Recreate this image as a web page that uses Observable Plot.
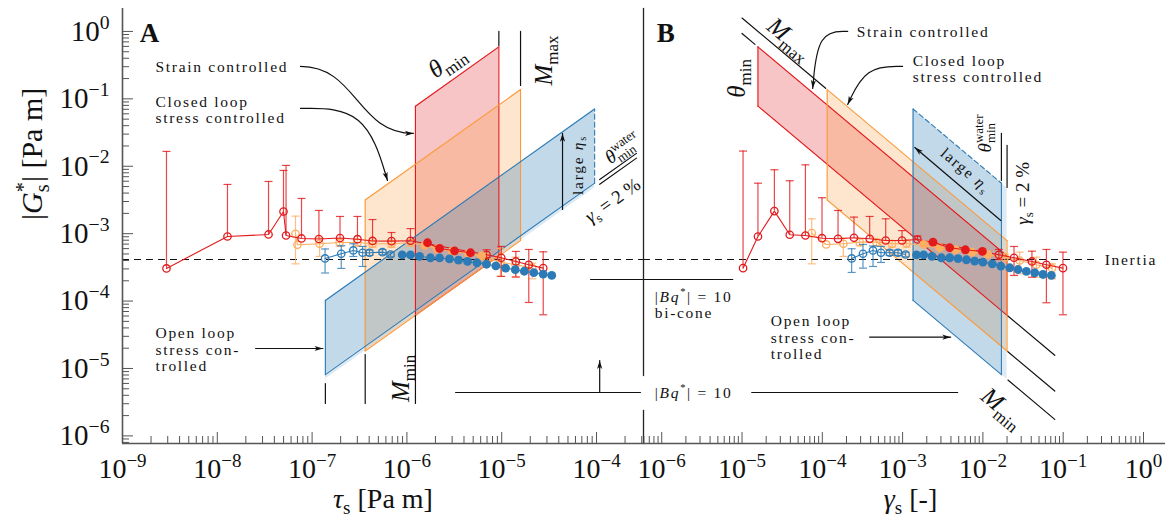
<!DOCTYPE html>
<html><head><meta charset="utf-8">
<script src="https://cdn.jsdelivr.net/npm/d3@7"></script>
<script src="https://cdn.jsdelivr.net/npm/@observablehq/plot@0.6"></script>
<style>
body{margin:0;background:#fff;}
#chart{display:flex;width:1172px;height:523px;}
#chart svg{display:block;flex:none;overflow:visible;font-family:'Liberation Serif',serif;}
#chart svg text{font-family:'Liberation Serif',serif;}
g[font-size="15.5"]{letter-spacing:1.7px;}
</style></head><body><div id="chart"></div><script>
// ---------- Panel A : tau_s [Pa m] vs |G*_s| [Pa m] ----------
const aRedOpenTau = [2.91e-9,1.28e-8,3.47e-8,4.99e-8,5.31e-8,7.73e-8,1.18e-7,1.97e-7,3.01e-7,4.34e-7,6.88e-7,1.09e-6,6.92e-6,9.89e-6,1.41e-5,1.93e-5,2.74e-5];
const aRedOpenG   = [3.05e-4,9.08e-4,9.73e-4,2.13e-3,9.40e-4,8.49e-4,8.34e-4,8.63e-4,8.28e-4,7.80e-4,7.74e-4,7.85e-4,4.86e-4,4.39e-4,3.87e-4,3.46e-4,3.08e-4];
const aRedOpenHi  = [1.66e-2,5.37e-3,5.95e-3,8.67e-3,1.03e-2,3.33e-3,2.21e-3,1.80e-3,1.80e-3,1.62e-3,1.04e-3,1.19e-3,5.77e-4,6.46e-4,5.45e-4,5.83e-4,5.38e-4];
const aRedOpenLo  = [null,null,null,null,null,null,null,null,null,null,null,null,4.39e-4,2.32e-4,2.28e-4,9.53e-5,6.26e-5];
const aRedFillTau = [1.65e-6,2.21e-6,3.18e-6,4.69e-6];
const aRedFillG   = [7.33e-4,6.03e-4,5.57e-4,5.21e-4];
const aOrgOpenTau = [6.68e-8,7.01e-8,1.20e-7,1.95e-7,3.01e-7,4.34e-7,6.88e-7,1.09e-6,7.03e-6,9.70e-6,1.40e-5,2.10e-5];
const aOrgOpenG   = [9.97e-4,6.84e-4,7.08e-4,7.40e-4,7.40e-4,7.08e-4,7.08e-4,7.33e-4,4.48e-4,3.78e-4,3.46e-4,3.08e-4];
const aOrgOpenHi  = [1.82e-3,null,8.6e-4,8.3e-4,8.2e-4,7.9e-4,7.9e-4,8.1e-4,5.0e-4,6.03e-4,4.48e-4,3.65e-4];
const aOrgOpenLo  = [3.57e-4,null,4.6e-4,6.5e-4,6.6e-4,6.3e-4,6.3e-4,6.5e-4,4.0e-4,2.34e-4,2.26e-4,2.14e-4];
const aOrgFillTau = [1.55e-6,2.09e-6,3.01e-6,4.45e-6,6.12e-6];
const aOrgFillG   = [6.68e-4,5.97e-4,5.50e-4,5.04e-4,4.67e-4];
const aBluOpenTau = [1.37e-7,2.03e-7,2.72e-7,3.41e-7,4.03e-7,5.53e-7,6.72e-7];
const aBluOpenG   = [4.29e-4,5.04e-4,5.64e-4,5.21e-4,5.21e-4,5.32e-4,4.91e-4];
const aBluOpenHi  = [5.93e-4,6.61e-4,7.08e-4,6.46e-4,5.7e-4,5.8e-4,5.3e-4];
const aBluOpenLo  = [2.61e-4,3.05e-4,4.59e-4,3.26e-4,4.75e-4,4.9e-4,4.55e-4];
const aBluFillTau = [8.91e-7,1.09e-6,1.36e-6,1.77e-6,2.21e-6,2.81e-6,3.50e-6,4.36e-6,5.48e-6,6.92e-6,8.67e-6,1.10e-5,1.39e-5,1.73e-5,2.18e-5,2.74e-5,3.37e-5];
const aBluFillG   = [4.86e-4,4.83e-4,4.59e-4,4.39e-4,4.36e-4,4.22e-4,4.05e-4,3.87e-4,3.70e-4,3.52e-4,3.32e-4,3.08e-4,2.92e-4,2.77e-4,2.64e-4,2.51e-4,2.40e-4];

// ---------- Panel B : gamma_s [-] vs |G*_s| [Pa m] ----------
const bRedOpenGam = [1.03e-5,1.58e-5,2.53e-5,3.93e-5,6.16e-5,9.91e-5,1.57e-4,2.48e-4,3.89e-4,6.16e-4,9.84e-4,1.53e-3,1.58e-2,2.44e-2,4.08e-2,6.18e-2,9.93e-2];
const bRedOpenG   = [3.08e-4,9.08e-4,2.16e-3,9.64e-4,9.40e-4,8.57e-4,8.39e-4,8.69e-4,8.39e-4,7.92e-4,7.92e-4,8.20e-4,4.86e-4,4.39e-4,3.87e-4,3.46e-4,3.08e-4];
const bRedOpenHi  = [1.68e-2,5.61e-3,8.87e-3,6.09e-3,1.05e-2,3.41e-3,2.21e-3,1.76e-3,1.80e-3,1.66e-3,1.11e-3,9.24e-4,5.83e-4,6.46e-4,5.50e-4,5.83e-4,5.32e-4];
const bRedOpenLo  = [null,null,null,null,null,null,null,null,null,null,null,null,4.14e-4,2.40e-4,2.26e-4,9.44e-5,6.26e-5];
const bRedFillGam = [2.39e-3,3.86e-3,6.05e-3,9.86e-3];
const bRedFillG   = [7.48e-4,6.18e-4,5.77e-4,5.45e-4];
const bOrgOpenGam = [7.38e-5,1.12e-4,1.83e-4,2.92e-4,4.72e-4,7.38e-4,1.12e-3,1.87e-2,2.87e-2,4.63e-2,7.26e-2];
const bOrgOpenG   = [1.02e-3,6.92e-4,7.08e-4,7.48e-4,7.48e-4,7.08e-4,7.16e-4,4.48e-4,4.00e-4,3.46e-4,3.08e-4];
const bOrgOpenHi  = [1.66e-3,null,8.6e-4,8.4e-4,8.3e-4,7.9e-4,7.9e-4,5.0e-4,5.32e-4,4.48e-4,3.57e-4];
const bOrgOpenLo  = [3.57e-4,null,4.6e-4,6.6e-4,6.6e-4,6.3e-4,6.3e-4,4.0e-4,2.54e-4,2.26e-4,2.14e-4];
const bOrgFillGam = [1.83e-3,2.90e-3,4.58e-3,7.31e-3,1.15e-2];
const bOrgFillG   = [6.92e-4,6.18e-4,5.77e-4,5.32e-4,4.91e-4];
const bBluOpenGam = [2.32e-4,3.21e-4,4.28e-4,5.38e-4,6.90e-4,8.77e-4,1.09e-3];
const bBluOpenG   = [4.29e-4,5.04e-4,5.64e-4,5.21e-4,5.21e-4,5.21e-4,4.91e-4];
const bBluOpenHi  = [5.97e-4,6.92e-4,6.57e-4,6.46e-4,5.7e-4,5.7e-4,5.3e-4];
const bBluOpenLo  = [2.66e-4,3.08e-4,3.26e-4,3.74e-4,4.75e-4,4.75e-4,4.55e-4];
const bBluFillGam = [1.49e-3,1.83e-3,2.32e-3,3.04e-3,3.86e-3,4.90e-3,6.23e-3,7.91e-3,1.00e-2,1.31e-2,1.67e-2,2.16e-2,2.74e-2,3.48e-2,4.42e-2,5.60e-2,7.13e-2];
const bBluFillG   = [4.86e-4,4.86e-4,4.59e-4,4.39e-4,4.39e-4,4.25e-4,4.10e-4,3.91e-4,3.78e-4,3.57e-4,3.30e-4,3.12e-4,2.94e-4,2.75e-4,2.63e-4,2.48e-4,2.40e-4];

// ---------- operating windows (strain / closed loop / open loop) ----------
const regColor  = ["#e3191c","#fb9a3c","#2c7bb6"];
const regOpac   = [0.25,0.25,0.29];
const regTauMin = [1.23e-6,3.63e-7,1.38e-7];
const regTauMax = [9.33e-6,1.58e-5,9.55e-5];
const regGamMin = [1.58e-5,1.15e-4,1.35e-3];
const regGamMax = [0.02,0.02,0.017];
const gamma2pct = 0.02, thetaWater = 0.017;
const inertiaG = 4.14e-4;

// ---------- axes ----------
const xDomA = [1e-9, 3.13e-4];
const xDomB = [5.93e-7, 1.88];
const yDom  = [7.71e-7, 2.19];
const aXMajor = [1e-9,1e-8,1e-7,1e-6,1e-5,1e-4];
const bXMajor = [1e-6,1e-5,1e-4,1e-3,1e-2,1e-1,1];
const yMajor  = [1e-6,1e-5,1e-4,1e-3,1e-2,1e-1,1];
const minor = (lo, hi) => { const o=[]; for (let e=-10;e<=1;e++) for (let k=2;k<=9;k++){const v=k*Math.pow(10,e); if (v>=lo&&v<=hi) o.push(v);} return o; };
const supFmt = d => { const e = Math.round(Math.log10(d)); return `10^{${e<0?"−"+(-e):e}}`; };
const AX = "#555", INK = "#111", FONT = "'Liberation Serif', serif";

const capSym  = {draw(c, size){ const w=Math.sqrt(size/Math.PI); c.moveTo(-w,0); c.lineTo(w,0); }};
const headSym = {draw(c, size){ const s=Math.sqrt(size/Math.PI); c.moveTo(0,0); c.lineTo(0.65*s,2.1*s); c.lineTo(0,1.55*s); c.lineTo(-0.65*s,2.1*s); c.closePath(); }};

function series(xs, ys, his, los, color, filled) {
  const pts = xs.map((x,i)=>({x, y:ys[i], hi: his?his[i]:null, lo: los?los[i]:null}));
  const bars = pts.filter(d=>d.hi!=null||d.lo!=null).map(d=>({x:d.x, y1:d.lo??d.y, y2:d.hi??d.y}));
  const caps = [];
  for (const d of pts) { if (d.hi!=null) caps.push({x:d.x,y:d.hi}); if (d.lo!=null) caps.push({x:d.x,y:d.lo}); }
  return [
    Plot.ruleX(bars, {x:"x", y1:"y1", y2:"y2", stroke:color, strokeWidth:1.2, strokeOpacity:0.8}),
    Plot.dot(caps, {x:"x", y:"y", symbol:capSym, r:4, stroke:color, strokeWidth:1.2, strokeOpacity:0.8}),
    Plot.line(pts, {x:"x", y:"y", stroke:color, strokeWidth:1.1}),
    filled ? Plot.dot(pts, {x:"x", y:"y", r:4.4, fill:color, stroke:"none"})
           : Plot.dot(pts, {x:"x", y:"y", r:3.7, fill:"none", stroke:color, strokeWidth:1.3})
  ];
}
const segs = list => list.flatMap((s,i)=>s.map(([x,y])=>({x,y,id:i})));
const segLine = (list, o) => Plot.line(segs(list), {x:"x", y:"y", z:"id", ...o});

function regionsA() {
  const marks = [];
  regColor.forEach((c,i) => {
    const t0=regTauMin[i], t1=regTauMax[i], g0=regGamMin[i], g1=regGamMax[i];
    if (i===2) marks.push(Plot.areaY([{x:t0,y1:t0/gamma2pct,y2:t0/g1},{x:t1,y1:t1/gamma2pct,y2:t1/g1}], {x:"x",y1:"y1",y2:"y2",fill:c,fillOpacity:0.16}));
    marks.push(Plot.areaY([{x:t0,y1:t0/g1,y2:t0/g0},{x:t1,y1:t1/g1,y2:t1/g0}], {x:"x",y1:"y1",y2:"y2",fill:c,fillOpacity:regOpac[i]}));
  });
  regColor.forEach((c,i) => {
    const t0=regTauMin[i], t1=regTauMax[i], g0=regGamMin[i], g1=regGamMax[i];
    const solid = [[[t0,t0/g1],[t0,t0/g0]], [[t0,t0/g0],[t1,t1/g0]], [[t0,t0/g1],[t1,t1/g1]]];
    const right = [[[t1,t1/g1],[t1,t1/g0]]];
    marks.push(segLine(solid, {stroke:c, strokeWidth:1.1}));
    marks.push(segLine(right, {stroke:c, strokeWidth:1.1, strokeDasharray: i===2 ? "5,3" : null}));
  });
  return marks;
}
function regionsB() {
  const marks = [];
  regColor.forEach((c,i) => {
    const t0=regTauMin[i], t1=regTauMax[i], g0=regGamMin[i], g1=regGamMax[i];
    if (i===2) marks.push(Plot.areaY([{x:g1,y1:t0/g1,y2:t1/g1},{x:gamma2pct,y1:t0/gamma2pct,y2:t1/gamma2pct}], {x:"x",y1:"y1",y2:"y2",fill:c,fillOpacity:0.16}));
    marks.push(Plot.areaY([{x:g0,y1:t0/g0,y2:t1/g0},{x:g1,y1:t0/g1,y2:t1/g1}], {x:"x",y1:"y1",y2:"y2",fill:c,fillOpacity:regOpac[i]}));
  });
  regColor.forEach((c,i) => {
    const t0=regTauMin[i], t1=regTauMax[i], g0=regGamMin[i], g1=regGamMax[i];
    const solid = [[[g0,t0/g0],[g0,t1/g0]], [[g1,t0/g1],[g1,t1/g1]], [[g0,t0/g0],[g1,t0/g1]]];
    const top = [[[g0,t1/g0],[g1,t1/g1]]];
    marks.push(segLine(solid, {stroke:c, strokeWidth:1.1}));
    marks.push(segLine(top, {stroke:c, strokeWidth:1.1, strokeDasharray: i===2 ? "5,3" : null}));
  });
  return marks;
}

// ---------- annotation data ----------
const extA = [
  [[9.33e-6,1],[9.33e-6,0.62]], [[1.58e-5,1],[1.58e-5,0.158]],
  [[1.38e-7,5.99e-6],[1.38e-7,3.03e-6]], [[3.63e-7,1.61e-5],[3.63e-7,3.03e-6]], [[1.23e-6,6.11e-5],[1.23e-6,3.03e-6]]
];
const gamLineTau = [1.08e-4, 2.64e-4];
const extAGamma = [thetaWater, gamma2pct].map(g => gamLineTau.map(t => [t, t/g]));
const extBTop = [[1e-5,1.45e-5],[1e-5,1.10e-4]].map((r,i) => r.map(g => [g, regTauMax[i]/g]));
const extBBot = regTauMin.map(t => [0.0205,0.0785].map(g => [g, t/g]));
const extBVert = [[[thetaWater,0.0307],[thetaWater,6.15e-3]], [[gamma2pct,0.0204],[gamma2pct,4.84e-3]]];

const annA_small = [
  {x:2.23e-9, y:0.303, t:"Strain controlled"},
  {x:2.23e-9, y:0.0685, t:"Closed loop\nstress controlled"},
  {x:2.23e-9, y:1.91e-5, t:"Open loop\nstress con-\ntrolled"}
];
const annA_theta = [{x:2.62e-6, y:0.36, t:"~{θ}_{min}"}];
const annA_big = [
  {x:2.76e-5, y:0.371, t:"~{M}_{max}", r:-90},
  {x:8.57e-7, y:7.11e-6, t:"~{M}_{min}", r:-90}
];
const annA_mid = [
  {x:1.88e-4, y:0.01837, t:"~{θ}^{water}_{min}"},
  {x:1.48e-4, y:3.11e-3, t:"~{γ}_{s} = 2 %"}
];
const annA_rot = [{x:6.31e-5, y:0.01045, t:"large ~{η}_{s}", r:-90}];
const arrA = [
  {pts:[[7.55e-8,0.303],[1.17e-6,0.0307]], curve:"bump-x", rot:90},
  {pts:[[7.55e-8,0.0721],[3.66e-7,0.0721],[6.24e-7,6.15e-3]], curve:"basis", rot:163},
  {pts:[[2.53e-8,1.98e-5],[1.30e-7,1.98e-5]], curve:"linear", rot:90},
  {pts:[[4.38e-5,2.29e-3],[4.38e-5,0.0307]], curve:"linear", rot:0},
  {pts:[[1.08e-4,4.40e-6],[1.08e-4,1.31e-5]], curve:"linear", rot:0}
];
const bqLinesA = [[[8.65e-5,2.09e-4],[xDomA[1],2.09e-4]], [[3.26e-6,4.40e-6],[2.91e-4,4.40e-6]]];

const annB_small = [
  {x:2.68e-4, y:1, t:"Strain controlled"},
  {x:1.34e-3, y:0.2825, t:"Closed loop\nstress controlled"},
  {x:2.28e-5, y:2.88e-5, t:"Open loop\nstress con-\ntrolled"},
  {x:8.18e-7, y:1.17e-4, t:"|~{Bq}^{*}| = 10"},
  {x:8.18e-7, y:6.78e-5, t:"bi-cone"},
  {x:8.18e-7, y:4.40e-6, t:"|~{Bq}^{*}| = 10"},
  {x:0.329, y:inertiaG, t:"Inertia"}
];
const annB_big = [
  {x:3.93e-5, y:0.787, t:"~{M}_{max}", r:40},
  {x:8.59e-6, y:0.201, t:"~{θ}_{min}", r:-90},
  {x:1.77e-2, y:2.64e-6, t:"~{M}_{min}", r:40}
];
const annB_mid = [
  {x:1.05e-2, y:0.0307, t:"~{θ}^{water}_{min}", r:-90},
  {x:3.13e-2, y:3.95e-3, t:"~{γ}_{s} = 2 %", r:-90}
];
const annB_rot = [{x:6.11e-3, y:8.66e-3, t:"large ~{η}_{s}", r:40}];
const arrB = [
  {pts:[[2.07e-4,1],[8.77e-5,1],[7.59e-5,0.1426]], curve:"basis", rot:185},
  {pts:[[1.00e-3,0.303],[3.47e-4,0.303],[2.07e-4,0.0826]], curve:"basis", rot:205},
  {pts:[[3.89e-4,2.91e-5],[3.97e-3,2.91e-5]], curve:"linear", rot:90},
  {pts:[[1.67e-2,1.57e-3],[1.42e-3,0.019]], curve:"linear", rot:-49.7}
];
const bqLinesB = [[[xDomB[0],2.09e-4],[7.66e-6,2.09e-4]], [[1.32e-5,4.40e-6],[4.85e-3,4.40e-6]]];
const dividerB = [[[xDomB[0],yDom[1]],[xDomB[0],7.87e-6]], [[xDomB[0],2.38e-6],[xDomB[0],yDom[0]]]];

function arrows(list) {
  const marks = list.map(a => Plot.line(a.pts.map(([x,y])=>({x,y})), {x:"x", y:"y", curve:a.curve, stroke:INK, strokeWidth:1.2}));
  const heads = list.map(a => { const p=a.pts[a.pts.length-1]; return {x:p[0], y:p[1], r:a.rot}; });
  marks.push(Plot.dot(heads, {x:"x", y:"y", rotate:"r", symbol:headSym, r:4, fill:INK, stroke:"none"}));
  return marks;
}
const T = (arr, o) => Plot.text(arr, {x:"x", y:"y", text:"t", fontFamily:FONT, ...o});

const common = {height:523, marginTop:8, marginBottom:80,
  style:{fontFamily:FONT, background:"white", color:INK, overflow:"visible"}};
const tickLbl = {anchor:"bottom", tickSize:0, tickPadding:15, tickFormat:supFmt, fontSize:28, fontFamily:FONT, label:null};

const plotA = Plot.plot({
  ...common, width:643, marginLeft:122, marginRight:0,
  x:{type:"log", domain:xDomA}, y:{type:"log", domain:yDom},
  marks:[
    ...regionsA(),
    segLine(extA, {stroke:INK, strokeWidth:1.2}),
    segLine(extAGamma, {stroke:INK, strokeWidth:1.2}),
    segLine(bqLinesA, {stroke:INK, strokeWidth:1.2}),
    Plot.ruleY([inertiaG], {stroke:INK, strokeWidth:1.1, strokeDasharray:"7,5"}),
    ...series(aOrgOpenTau,aOrgOpenG,aOrgOpenHi,aOrgOpenLo,"#fdae61",false),
    ...series(aBluOpenTau,aBluOpenG,aBluOpenHi,aBluOpenLo,"#2c7bb6",false),
    ...series(aRedOpenTau,aRedOpenG,aRedOpenHi,aRedOpenLo,"#e3191c",false),
    ...series(aOrgFillTau,aOrgFillG,null,null,"#fdae61",true),
    ...series(aRedFillTau,aRedFillG,null,null,"#e3191c",true),
    ...series(aBluFillTau,aBluFillG,null,null,"#2c7bb6",true),
    ...arrows(arrA),
    T(annA_small, {textAnchor:"start", lineAnchor:"middle", fontSize:15.5, lineHeight:1.05}),
    T(annA_rot, {rotate:"r", fontSize:15.5}),
    T(annA_theta, {rotate:-35.4, fontSize:25}),
    T(annA_big, {rotate:"r", fontSize:25}),
    T(annA_mid, {rotate:-35.4, fontSize:19}),
    T([{x:1.93e-9, y:0.93, t:"A"}], {fontSize:27, fontWeight:"bold"}),
    Plot.ruleX([xDomA[0]], {stroke:AX, strokeWidth:1.6}),
    Plot.ruleY([yDom[0]], {stroke:AX, strokeWidth:1.6}),
    Plot.axisX(minor(...xDomA), {anchor:"bottom", tickSize:-7, tickFormat:()=>"", stroke:AX, label:null}),
    Plot.axisX(aXMajor, {anchor:"bottom", tickSize:-11, tickFormat:()=>"", stroke:AX, label:null}),
    Plot.axisX(aXMajor, tickLbl),
    Plot.axisY(minor(yDom[0], 1), {anchor:"left", tickSize:-7, tickFormat:()=>"", stroke:AX, label:null}),
    Plot.axisY(yMajor, {anchor:"left", tickSize:-11, tickFormat:()=>"", stroke:AX, label:null}),
    Plot.axisY(yMajor, {...tickLbl, anchor:"left", tickPadding:13, fontSize:29}),
    Plot.text(["|~{G}^{*}_{s}| [Pa m]"], {frameAnchor:"left", dx:-90, dy:-6, rotate:-90, fontSize:30, fontFamily:FONT}),
    Plot.text(["~{τ}_{s} [Pa m]"], {frameAnchor:"bottom", dy:64, fontSize:28, fontFamily:FONT})
  ]
});

const plotB = Plot.plot({
  ...common, width:529, marginLeft:0, marginRight:7,
  x:{type:"log", domain:xDomB}, y:{type:"log", domain:yDom, axis:null},
  marks:[
    ...regionsB(),
    segLine(extBTop, {stroke:INK, strokeWidth:1.2}),
    segLine(extBBot, {stroke:INK, strokeWidth:1.2}),
    segLine(extBVert, {stroke:INK, strokeWidth:1.2}),
    segLine(bqLinesB, {stroke:INK, strokeWidth:1.2}),
    Plot.ruleY([{y:inertiaG, x1:xDomB[0], x2:0.261}], {y:"y", x1:"x1", x2:"x2", stroke:INK, strokeWidth:1.1, strokeDasharray:"7,5"}),
    ...series(bOrgOpenGam,bOrgOpenG,bOrgOpenHi,bOrgOpenLo,"#fdae61",false),
    ...series(bBluOpenGam,bBluOpenG,bBluOpenHi,bBluOpenLo,"#2c7bb6",false),
    ...series(bRedOpenGam,bRedOpenG,bRedOpenHi,bRedOpenLo,"#e3191c",false),
    ...series(bOrgFillGam,bOrgFillG,null,null,"#fdae61",true),
    ...series(bRedFillGam,bRedFillG,null,null,"#e3191c",true),
    ...series(bBluFillGam,bBluFillG,null,null,"#2c7bb6",true),
    ...arrows(arrB),
    T(annB_small, {textAnchor:"start", lineAnchor:"middle", fontSize:15.5, lineHeight:1.05}),
    T(annB_rot, {rotate:"r", fontSize:15.5}),
    T(annB_big, {rotate:"r", fontSize:25}),
    T(annB_mid, {rotate:"r", fontSize:19}),
    T([{x:1.12e-6, y:0.93, t:"B"}], {fontSize:27, fontWeight:"bold"}),
    segLine(dividerB, {stroke:"#222", strokeWidth:1.3}),
    Plot.ruleY([yDom[0]], {stroke:AX, strokeWidth:1.6}),
    Plot.axisX(minor(...xDomB), {anchor:"bottom", tickSize:-7, tickFormat:()=>"", stroke:AX, label:null}),
    Plot.axisX(bXMajor, {anchor:"bottom", tickSize:-11, tickFormat:()=>"", stroke:AX, label:null}),
    Plot.axisX(bXMajor, tickLbl),
    Plot.text(["~{γ}_{s} [-]"], {frameAnchor:"bottom", dy:64, dx:6, fontSize:28, fontFamily:FONT})
  ]
});

const root = document.getElementById("chart");
root.appendChild(plotA); root.appendChild(plotB);

function richify(svg) {
  const NS = "http://www.w3.org/2000/svg";
  const els = [...svg.querySelectorAll("text, tspan")].filter(el => el.childElementCount===0 && /[\^_~]\{/.test(el.textContent));
  for (const el of els) {
    const src = el.textContent;
    const fs = parseFloat(getComputedStyle(el).fontSize) || 16;
    const parts = []; const re = /([\^_~])\{([^}]*)\}/g; let last=0, m;
    while ((m = re.exec(src))) { if (m.index>last) parts.push(["", src.slice(last,m.index)]); parts.push([m[1], m[2]]); last = re.lastIndex; }
    if (last < src.length) parts.push(["", src.slice(last)]);
    el.textContent = "";
    let shift = 0, prev = null, pend = 0;
    for (const [k, s] of parts) {
      const t = document.createElementNS(NS, "tspan");
      t.textContent = s;
      let target = 0;
      if (k==="^") { target = -0.42*fs; t.setAttribute("font-size", (0.68*fs).toFixed(2)); }
      else if (k==="_") { target = 0.24*fs; t.setAttribute("font-size", (0.68*fs).toFixed(2)); }
      else if (k==="~") t.setAttribute("font-style", "italic");
      const dy = target - shift; if (Math.abs(dy) > 0.01) t.setAttribute("dy", dy.toFixed(2));
      shift = target;
      let dx = pend; pend = 0;
      const stack = k==="_" && prev && prev.k==="^";
      if (stack) dx -= prev.w;
      if (dx) t.setAttribute("dx", dx.toFixed(2));
      el.appendChild(t);
      const w = t.getComputedTextLength();
      if (stack && prev.w > w) pend = prev.w - w;
      prev = {k, w};
    }
  }
}
richify(plotA); richify(plotB);
</script></body></html>
